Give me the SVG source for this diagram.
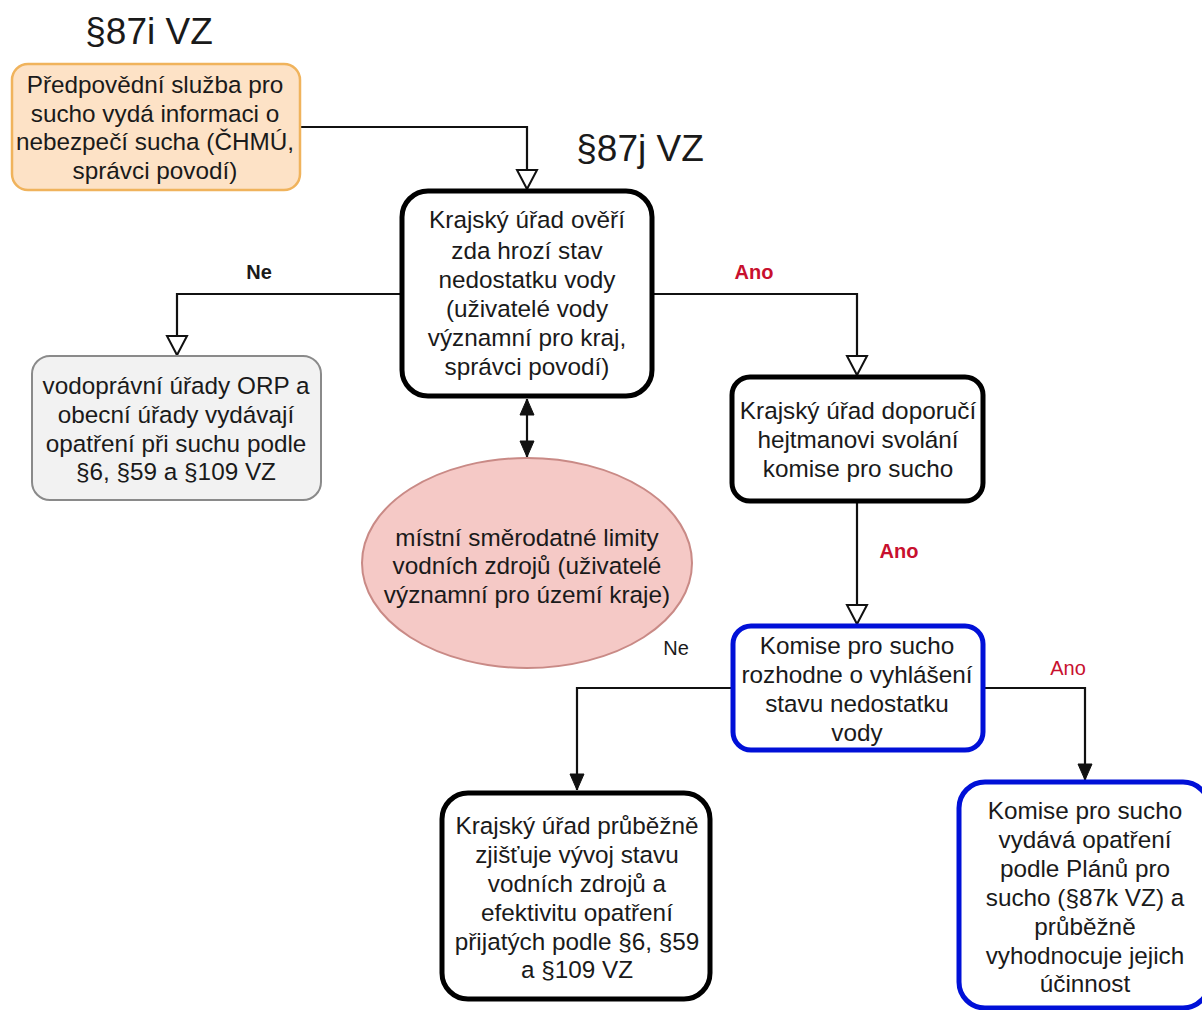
<svg xmlns="http://www.w3.org/2000/svg" width="1202" height="1010" viewBox="0 0 1202 1010">
<defs>
<style>
text{font-family:"Liberation Sans",Arial,sans-serif;fill:#1a1a1a;text-anchor:middle}
.t{font-size:24.3px}
.h{font-size:37px}
.lb{font-size:20px;font-weight:bold}
.ln{font-size:20px}
.red{fill:#c8102e}
.c{fill:none;stroke:#111;stroke-width:2.2}
.blk{fill:#fff;stroke:#000;stroke-width:5}
.blu{fill:#fff;stroke:#0010d8;stroke-width:5}
</style>
<marker id="open" markerUnits="userSpaceOnUse" markerWidth="24" markerHeight="24" viewBox="0 0 24 24" refX="21" refY="12" orient="auto">
<path d="M2,2 L21,12 L2,22 Z" fill="#fff" stroke="#111" stroke-width="2"/>
</marker>
<marker id="fill" markerUnits="userSpaceOnUse" markerWidth="20" markerHeight="20" viewBox="0 0 20 20" refX="18" refY="10" orient="auto-start-reverse">
<path d="M2,3 L18,10 L2,17 Z" fill="#111" stroke="#111" stroke-width="1"/>
</marker>
</defs>
<rect width="1202" height="1010" fill="#fff"/>
<text class="h" x="149" y="44">§87i VZ</text>
<text class="h" x="640" y="161">§87j VZ</text>
<g id="connectors">
<path class="c" d="M300,127 H527 V189" marker-end="url(#open)"/>
<path class="c" d="M402,294 H177 V355" marker-end="url(#open)"/>
<path class="c" d="M652,294 H857 V375" marker-end="url(#open)"/>
<path class="c" d="M527,399 V457" marker-start="url(#fill)" marker-end="url(#fill)"/>
<path class="c" d="M857,502 V624" marker-end="url(#open)"/>
<path class="c" d="M733,688 H577 V790" marker-end="url(#fill)"/>
<path class="c" d="M983,688 H1085 V780" marker-end="url(#fill)"/>
<text class="lb" x="259" y="279">Ne</text>
<text class="lb red" x="754" y="279">Ano</text>
<text class="lb red" x="899" y="558">Ano</text>
<text class="ln" x="676" y="655">Ne</text>
<text class="ln red" x="1068" y="675">Ano</text>
</g>
<g id="n_forecast">
<rect x="12" y="64" width="288" height="126" rx="16" fill="#fde2c6" stroke="#f0b35c" stroke-width="2.5"/>
<text class="t" x="155" y="93">Předpovědní služba pro</text>
<text class="t" x="155" y="122">sucho vydá informaci o</text>
<text class="t" x="155" y="150">nebezpečí sucha (ČHMÚ,</text>
<text class="t" x="155" y="179">správci povodí)</text>
</g>
<g id="n_verify">
<rect class="blk" x="402" y="191" width="250" height="205" rx="26"/>
<text class="t" x="527" y="228">Krajský úřad ověří</text>
<text class="t" x="527" y="259">zda hrozí stav</text>
<text class="t" x="527" y="288">nedostatku vody</text>
<text class="t" x="527" y="317">(uživatelé vody</text>
<text class="t" x="527" y="346">významní pro kraj,</text>
<text class="t" x="527" y="375">správci povodí)</text>
</g>
<g id="n_orp">
<rect x="32" y="356" width="289" height="144" rx="18" fill="#f2f2f2" stroke="#8a8a8a" stroke-width="2"/>
<text class="t" x="176" y="394">vodoprávní úřady ORP a</text>
<text class="t" x="176" y="423">obecní úřady vydávají</text>
<text class="t" x="176" y="452">opatření při suchu podle</text>
<text class="t" x="176" y="480">§6, §59 a §109 VZ</text>
</g>
<g id="n_limits">
<ellipse cx="527" cy="563" rx="165" ry="105" fill="#f5c9c6" stroke="#c98a86" stroke-width="2"/>
<text class="t" x="527" y="546">místní směrodatné limity</text>
<text class="t" x="527" y="574">vodních zdrojů (uživatelé</text>
<text class="t" x="527" y="603">významní pro území kraje)</text>
</g>
<g id="n_recommend">
<rect class="blk" x="732" y="377" width="251" height="124" rx="18"/>
<text class="t" x="858" y="419">Krajský úřad doporučí</text>
<text class="t" x="858" y="448">hejtmanovi svolání</text>
<text class="t" x="858" y="477">komise pro sucho</text>
</g>
<g id="n_decide">
<rect class="blu" x="733" y="626" width="250" height="124" rx="18"/>
<text class="t" x="857" y="654">Komise pro sucho</text>
<text class="t" x="857" y="683">rozhodne o vyhlášení</text>
<text class="t" x="857" y="712">stavu nedostatku</text>
<text class="t" x="857" y="741">vody</text>
</g>
<g id="n_monitor">
<rect class="blk" x="442" y="793" width="268" height="206" rx="26"/>
<text class="t" x="577" y="834">Krajský úřad průběžně</text>
<text class="t" x="577" y="863">zjišťuje vývoj stavu</text>
<text class="t" x="577" y="892">vodních zdrojů a</text>
<text class="t" x="577" y="921">efektivitu opatření</text>
<text class="t" x="577" y="950">přijatých podle §6, §59</text>
<text class="t" x="577" y="978">a §109 VZ</text>
</g>
<g id="n_measures">
<rect class="blu" x="959" y="782" width="250" height="226" rx="26"/>
<text class="t" x="1085" y="819">Komise pro sucho</text>
<text class="t" x="1085" y="848">vydává opatření</text>
<text class="t" x="1085" y="877">podle Plánů pro</text>
<text class="t" x="1085" y="906">sucho (§87k VZ) a</text>
<text class="t" x="1085" y="935">průběžně</text>
<text class="t" x="1085" y="964">vyhodnocuje jejich</text>
<text class="t" x="1085" y="992">účinnost</text>
</g>
</svg>
